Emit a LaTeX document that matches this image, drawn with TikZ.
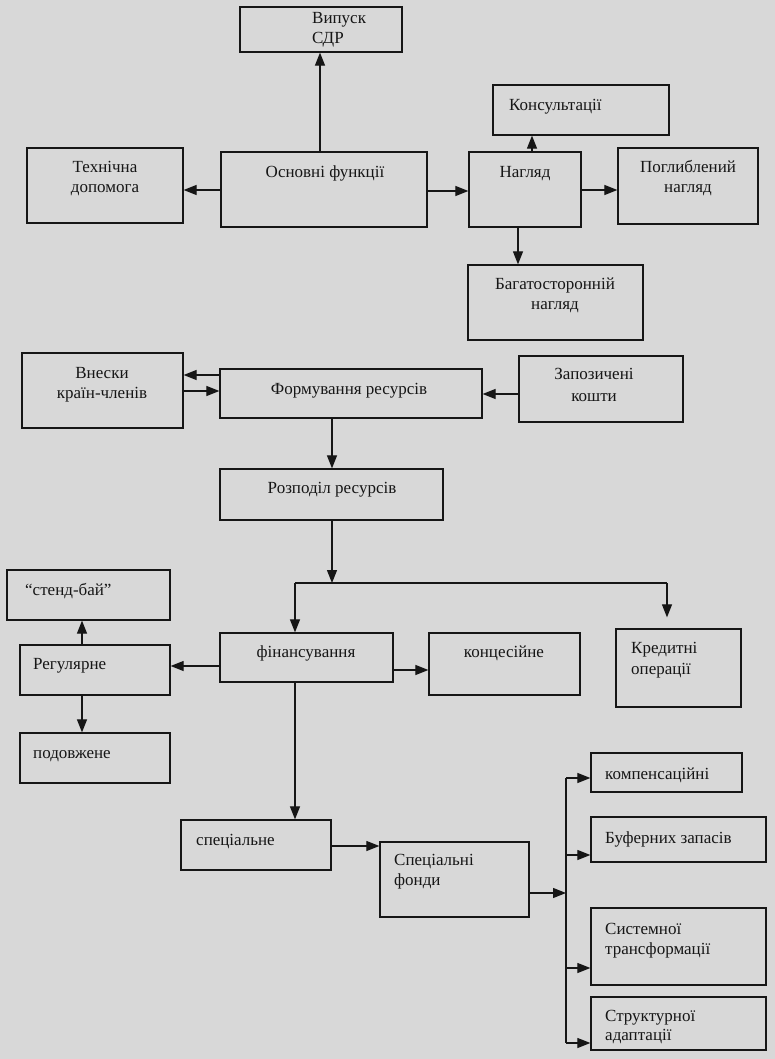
\documentclass[tikz,border=0pt]{standalone}
\usepackage{fontspec}
\setmainfont{Liberation Serif}
\usetikzlibrary{arrows.meta,fit}
\definecolor{paper}{RGB}{216,216,216}
\definecolor{ink}{RGB}{22,22,22}
\begin{document}
\begin{tikzpicture}[x=1pt,y=-1pt,
  box/.style={draw=ink,line width=1.3pt,inner sep=0pt},
  lbl/.style={inner sep=0pt,text=ink,font=\fontsize{17}{20}\selectfont},
  arr/.style={draw=ink,line width=1.2pt,-{Triangle[length=13pt,width=10pt]}},
  ln/.style={draw=ink,line width=1.2pt}]
\fill[paper] (0,0) rectangle (775,1059);
\useasboundingbox (0,0) rectangle (775,1059);

% boxes
\node[box,fit={(240,7) (402,52)}] (vyp) {};
\node[box,fit={(493,85) (669,135)}] (kons) {};
\node[box,fit={(27,148) (183,223)}] (tech) {};
\node[box,fit={(221,152) (427,227)}] (osn) {};
\node[box,fit={(469,152) (581,227)}] (nag) {};
\node[box,fit={(618,148) (758,224)}] (pogl) {};
\node[box,fit={(468,265) (643,340)}] (bag) {};
\node[box,fit={(22,353) (183,428)}] (vnes) {};
\node[box,fit={(220,369) (482,418)}] (form) {};
\node[box,fit={(519,356) (683,422)}] (zap) {};
\node[box,fit={(220,469) (443,520)}] (rozp) {};
\node[box,fit={(7,570) (170,620)}] (stend) {};
\node[box,fit={(20,645) (170,695)}] (reg) {};
\node[box,fit={(20,733) (170,783)}] (podov) {};
\node[box,fit={(220,633) (393,682)}] (fin) {};
\node[box,fit={(429,633) (580,695)}] (konc) {};
\node[box,fit={(616,629) (741,707)}] (kred) {};
\node[box,fit={(181,820) (331,870)}] (spec) {};
\node[box,fit={(380,842) (529,917)}] (spf) {};
\node[box,fit={(591,753) (742,792)}] (komp) {};
\node[box,fit={(591,817) (766,862)}] (buf) {};
\node[box,fit={(591,908) (766,985)}] (sys) {};
\node[box,fit={(591,997) (766,1050)}] (str) {};

% labels
\node[lbl,anchor=base west] (vyp-t1) at (312,24) {Випуск};
\node[lbl,anchor=base west] (vyp-t2) at (312,44) {СДР};
\node[lbl,anchor=base west] (kons-t) at (509,111) {Консультації};
\node[lbl,anchor=base] (tech-t1) at (105,173) {Технічна};
\node[lbl,anchor=base] (tech-t2) at (105,193) {допомога};
\node[lbl,anchor=base] (osn-t) at (325,178) {Основні функції};
\node[lbl,anchor=base] (nag-t) at (525,178) {Нагляд};
\node[lbl,anchor=base] (pogl-t1) at (688,173) {Поглиблений};
\node[lbl,anchor=base] (pogl-t2) at (688,193) {нагляд};
\node[lbl,anchor=base] (bag-t1) at (555,289) {Багатосторонній};
\node[lbl,anchor=base] (bag-t2) at (555,309) {нагляд};
\node[lbl,anchor=base] (vnes-t1) at (102,378) {Внески};
\node[lbl,anchor=base] (vnes-t2) at (102,398) {країн-членів};
\node[lbl,anchor=base] (form-t) at (349,394) {Формування ресурсів};
\node[lbl,anchor=base] (zap-t1) at (594,379) {Запозичені};
\node[lbl,anchor=base] (zap-t2) at (594,401) {кошти};
\node[lbl,anchor=base] (rozp-t) at (332,493) {Розподіл ресурсів};
\node[lbl,anchor=base west] (stend-t) at (25,595) {“стенд-бай”};
\node[lbl,anchor=base west] (reg-t) at (33,669) {Регулярне};
\node[lbl,anchor=base west] (podov-t) at (33,758) {подовжене};
\node[lbl,anchor=base] (fin-t) at (306,657) {фінансування};
\node[lbl,anchor=base] (konc-t) at (504,657) {концесійне};
\node[lbl,anchor=base west] (kred-t1) at (631,653) {Кредитні};
\node[lbl,anchor=base west] (kred-t2) at (631,674) {операції};
\node[lbl,anchor=base west] (spec-t) at (196,845) {спеціальне};
\node[lbl,anchor=base west] (spf-t1) at (394,865) {Спеціальні};
\node[lbl,anchor=base west] (spf-t2) at (394,885) {фонди};
\node[lbl,anchor=base west] (komp-t) at (605,779) {компенсаційні};
\node[lbl,anchor=base west] (buf-t) at (605,843) {Буферних запасів};
\node[lbl,anchor=base west] (sys-t1) at (605,934) {Системної};
\node[lbl,anchor=base west] (sys-t2) at (605,954) {трансформації};
\node[lbl,anchor=base west] (str-t1) at (605,1021) {Структурної};
\node[lbl,anchor=base west] (str-t2) at (605,1040) {адаптації};

% helper coordinates for connector positions
\coordinate (x320) at (320,0);
\coordinate (y190) at (0,190);
\coordinate (y191) at (0,191);
\coordinate (x532) at (532,0);
\coordinate (x518) at (518,0);
\coordinate (y375) at (0,375);
\coordinate (y391) at (0,391);
\coordinate (y394) at (0,394);
\coordinate (x332) at (332,0);
\coordinate (sL) at (295,583);
\coordinate (sR) at (667,583);
\coordinate (y666) at (0,666);
\coordinate (y670) at (0,670);
\coordinate (x82) at (82,0);
\coordinate (y846) at (0,846);
\coordinate (y893) at (0,893);
\coordinate (bT) at (566,778);
\coordinate (bB) at (566,1043);
\coordinate (y855) at (0,855);
\coordinate (y968) at (0,968);

% connectors
\draw[arr] (osn.north -| x320) -- (vyp.south -| x320);
\draw[arr] (osn.west |- y190) -- (tech.east |- y190);
\draw[arr] (osn.east |- y191) -- (nag.west |- y191);
\draw[arr] (nag.north -| x532) -- (kons.south -| x532);
\draw[arr] (nag.east |- y190) -- (pogl.west |- y190);
\draw[arr] (nag.south -| x518) -- (bag.north -| x518);
\draw[arr] (form.west |- y375) -- (vnes.east |- y375);
\draw[arr] (vnes.east |- y391) -- (form.west |- y391);
\draw[arr] (zap.west |- y394) -- (form.east |- y394);
\draw[arr] (form.south -| x332) -- (rozp.north -| x332);
\draw[arr] (rozp.south -| x332) -- (sL -| x332);
\draw[ln] (sL) -- (sR);
\draw[arr] (sL) -- (fin.north -| sL);
\draw[arr,shorten >=11pt] (sR) -- (kred.north -| sR);
\draw[arr] (fin.west |- y666) -- (reg.east |- y666);
\draw[arr] (fin.east |- y670) -- (konc.west |- y670);
\draw[arr] (reg.north -| x82) -- (stend.south -| x82);
\draw[arr] (reg.south -| x82) -- (podov.north -| x82);
\draw[arr] (fin.south -| sL) -- (spec.north -| sL);
\draw[arr] (spec.east |- y846) -- (spf.west |- y846);
\draw[arr] (spf.east |- y893) -- (bT |- y893);
\draw[ln] (bT) -- (bB);
\draw[arr] (bT) -- (komp.west |- bT);
\draw[arr] (bT |- y855) -- (buf.west |- y855);
\draw[arr] (bT |- y968) -- (sys.west |- y968);
\draw[arr] (bB) -- (str.west |- bB);
\end{tikzpicture}
\end{document}
